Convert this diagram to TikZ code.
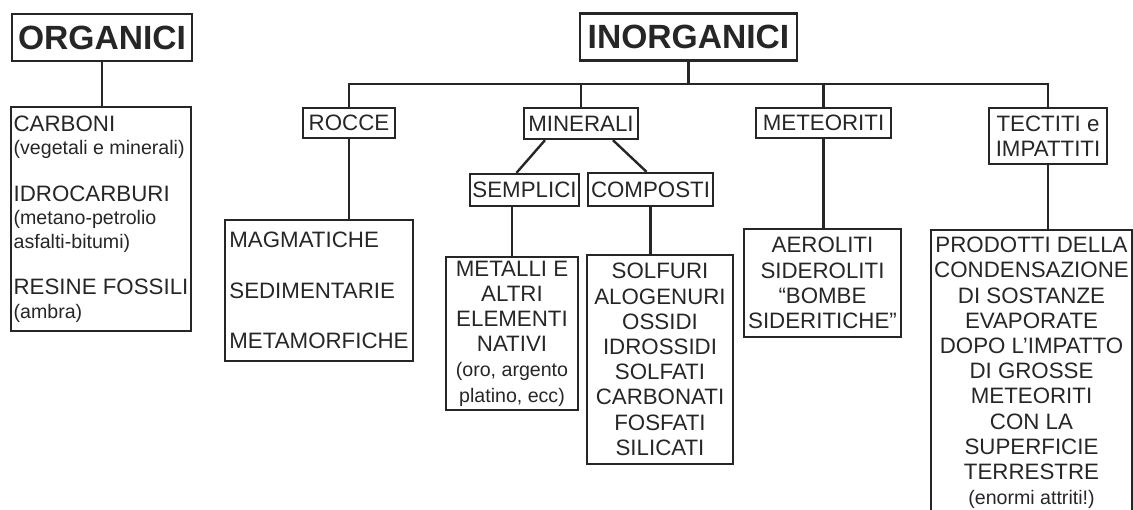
\documentclass[tikz,border=0pt]{standalone}
\usepackage{fontspec}
\setmainfont{Liberation Sans}
\usetikzlibrary{calc,positioning}
\newcommand{\minore}{\fontsize{19.6}{25.2}\selectfont}

\begin{document}
\begin{tikzpicture}[x=1pt, y=-1pt, line width=2.4pt, color=black!85,
    titolo/.style={draw, font=\fontsize{33.6}{36}\selectfont\bfseries, minimum height=47pt, inner sep=0pt},
    voce/.style={draw, font=\fontsize{22.3}{25.2}\selectfont, inner sep=0pt},
    elenco/.style={draw, font=\fontsize{22.3}{25.2}\selectfont, inner xsep=1pt, inner ysep=0pt}]
    \useasboundingbox (0,0) rectangle (1133,510);

    % Titoli
    \node[titolo, minimum width=180pt] (organici) at (102,37.5) {ORGANICI};
    \node[titolo, minimum width=217pt] (inorganici) at (688.5,37) {INORGANICI};

    % Organici
    \node[elenco, minimum width=180pt, minimum height=224pt, align=left, font=\fontsize{22.3}{23.5}\selectfont] (carboni) at (101,219)
        {CARBONI\\{\minore (vegetali e minerali)}\\[23pt]IDROCARBURI\\{\minore (metano-petrolio}\\{\minore asfalti-bitumi)}\\[23pt]RESINE FOSSILI\\{\minore (ambra)}};

    % Inorganici: secondo livello
    \node[voce, minimum width=92pt, minimum height=30pt] (rocce) at (349,123) {ROCCE};
    \node[voce, minimum width=114pt, minimum height=31pt] (minerali) at (581,123.5) {MINERALI};
    \node[voce, minimum width=135pt, minimum height=30pt] (meteoriti) at (823.5,123) {METEORITI};
    \node[voce, minimum width=118pt, minimum height=56pt, align=center] (tectiti) at (1048,136) {TECTITI e\\IMPATTITI};
    \node[voce, minimum width=109pt, minimum height=32pt] (semplici) at (524.5,190) {SEMPLICI};
    \node[voce, minimum width=125pt, minimum height=33pt] (composti) at (650.5,189.5) {COMPOSTI};

    % Inorganici: elenchi
    \node[elenco, minimum width=188pt, minimum height=141pt, align=left] (rocklist) at (319,290.5)
        {MAGMATICHE\\[25pt]SEDIMENTARIE\\[25pt]METAMORFICHE};
    \node[elenco, minimum width=132pt, minimum height=153pt, align=center] (metalli) at (512,333.5)
        {METALLI E\\ALTRI\\ELEMENTI\\NATIVI\\{\minore (oro, argento}\\{\minore platino, ecc)}};
    \node[elenco, minimum width=146pt, minimum height=209pt, align=center] (solfuri) at (660,359.5)
        {SOLFURI\\ALOGENURI\\OSSIDI\\IDROSSIDI\\SOLFATI\\CARBONATI\\FOSFATI\\SILICATI};
    \node[elenco, minimum width=157pt, minimum height=108pt, align=center] (aeroliti) at (822.5,283)
        {AEROLITI\\SIDEROLITI\\“BOMBE\\SIDERITICHE”};
    \node[elenco, minimum width=201pt, minimum height=286pt, align=center] (prodotti) at (1031.5,373)
        {PRODOTTI DELLA\\CONDENSAZIONE\\DI SOSTANZE\\EVAPORATE\\DOPO L’IMPATTO\\DI GROSSE\\METEORITI\\CON LA\\SUPERFICIE\\TERRESTRE\\{\minore (enormi attriti!)}};

    % Collegamenti
    \coordinate (sbarra) at (0,84);
    \draw (organici.south) -- (organici.south |- carboni.north);
    \draw (inorganici.south) -- (inorganici.south |- sbarra);
    \draw (rocce.north) -- (rocce.north |- sbarra) -- (tectiti.north |- sbarra) -- (tectiti.north);
    \draw (minerali.north) -- (minerali.north |- sbarra);
    \draw (meteoriti.north) -- (meteoriti.north |- sbarra);
    \draw ($(minerali.south)+(-36,0)$) -- ($(semplici.north)+(-8,0)$);
    \draw ($(minerali.south)+(32,0)$) -- ($(composti.north)+(-4,0)$);
    \draw (rocce.south) -- (rocce.south |- rocklist.north);
    \draw (metalli.north) -- (metalli.north |- semplici.south);
    \draw (composti.south) -- (composti.south |- solfuri.north);
    \draw (meteoriti.south) -- (meteoriti.south |- aeroliti.north);
    \draw (tectiti.south) -- (tectiti.south |- prodotti.north);
\end{tikzpicture}
\end{document}
